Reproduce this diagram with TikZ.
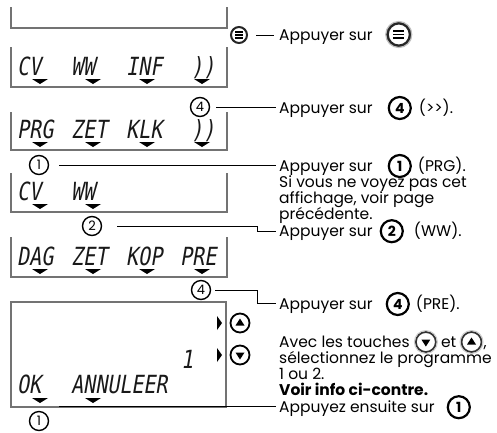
\documentclass[tikz,border=0pt]{standalone}
\usepackage{fontspec}
\setmainfont{Poppins}
\newfontfamily\lcd[FakeStretch=0.8,FakeSlant=0.17]{DejaVu Sans Mono}
\tikzset{
  lcdbox/.style={draw=black!55, line width=1.1pt},
  lcdtxt/.style={anchor=base west, inner sep=0, font=\lcd\fontsize{25}{25}\selectfont, text=black!90},
  num/.style={circle, draw, line width=1.4pt, minimum size=19pt, inner sep=0, font=\fontsize{13}{13}\selectfont},
  bignum/.style={circle, draw, line width=2.2pt, minimum size=22pt, inner sep=0, font=\bfseries\fontsize{14}{14}\selectfont},
  txt/.style={anchor=base west, inner sep=0, font=\fontsize{15.5}{15.5}\selectfont},
  conn/.style={draw, line width=0.8pt},
  menuic/.style={circle, draw=black!85, fill=white, inner sep=0, line width=2pt, minimum size=16pt},
  arrowic/.style={circle, draw=black, fill=white, inner sep=0, line width=1.8pt, minimum size=19pt},
}
\newcommand\menubars[3]{\foreach \dy in {-1,0,1}{\fill[black] ([shift={(-#2,\dy*#3-0.9)}]#1.center) rectangle ([shift={(#2,\dy*#3+0.9)}]#1.center);}}
\newcommand\uptri[1]{\fill ([shift={(-4.5,2.5)}]#1.center) -- ([shift={(4.5,2.5)}]#1.center) -- ([shift={(0,-4.5)}]#1.center) -- cycle;}
\newcommand\downtri[1]{\fill ([shift={(-4.5,-2.5)}]#1.center) -- ([shift={(4.5,-2.5)}]#1.center) -- ([shift={(0,4.5)}]#1.center) -- cycle;}
\begin{document}
\begin{tikzpicture}[x=1pt,y=-1pt]
\useasboundingbox (0,0) rectangle (497,432);

% LCD boxes
\draw[lcdbox] (11,7) |- (227,28) -- (227,7);
\draw[lcdbox] (11,47) |- (227,87) -- (227,47);
\draw[lcdbox] (11,112) |- (227,150) -- (227,112);
\draw[lcdbox] (11,173) |- (227,212) -- (227,173);
\draw[lcdbox] (11,237) |- (227,277) -- (227,237);
\draw[lcdbox] (11,302) rectangle (226,407);

% LCD labels
\node[lcdtxt] (b2a) at (17,75) {CV};
\node[lcdtxt] (b2b) at (71,75) {WW};
\node[lcdtxt] (b2c) at (126,75) {INF};
\node[lcdtxt] (b2d) at (191,75) {))};
\node[lcdtxt] (b3a) at (17,138) {PRG};
\node[lcdtxt] (b3b) at (71,138) {ZET};
\node[lcdtxt] (b3c) at (126,138) {KLK};
\node[lcdtxt] (b3d) at (191,138) {))};
\node[lcdtxt] (b4a) at (17,200) {CV};
\node[lcdtxt] (b4b) at (71,200) {WW};
\node[lcdtxt] (b5a) at (17,265) {DAG};
\node[lcdtxt] (b5b) at (71,265) {ZET};
\node[lcdtxt] (b5c) at (126,265) {KOP};
\node[lcdtxt] (b5d) at (180,265) {PRE};
\node[lcdtxt] (b6n) at (181,368) {1};
\node[lcdtxt] (b6a) at (17,393) {OK};
\node[lcdtxt] (b6b) at (71,393) {ANNULEER};

% pointers
\foreach \x in {40,93,147,202}{\fill (\x-8,79) -- (\x+8,79) -- (\x,84) -- cycle;}
\foreach \x in {40,93,147,202}{\fill (\x-8,142) -- (\x+8,142) -- (\x,147) -- cycle;}
\foreach \x in {40,93}{\fill (\x-8,204) -- (\x+8,204) -- (\x,209) -- cycle;}
\foreach \x in {40,93,147,202}{\fill (\x-8,269) -- (\x+8,269) -- (\x,274) -- cycle;}
\foreach \x in {40,93}{\fill (\x-8,398) -- (\x+8,398) -- (\x,403) -- cycle;}
\fill (217,316) -- (222,323) -- (217,330) -- cycle;
\fill (217,348) -- (222,355) -- (217,362) -- cycle;

% side buttons
\node[menuic] (m1) at (239,35) {};
\menubars{m1}{4}{2.7}
\node[arrowic] (up1) at (240,323) {};
\uptri{up1}
\node[arrowic] (dn1) at (240,355) {};
\downtri{dn1}

% circled numbers
\node[num] (k4a) at (200,107) {4};
\node[num] (k1a) at (39,165) {1};
\node[num] (k2a) at (92,226) {2};
\node[num] (k4b) at (201,290) {4};
\node[num] (k1b) at (39,421) {1};

% right texts
\node[txt] (a1) at (279,40) {Appuyer sur};
\node[menuic, minimum size=23pt, line width=3pt] (m2) at ([shift={(26,-5.5)}]a1.base east) {};
\draw[black!25, line width=1.2pt] (m2.center) circle (13pt);
\menubars{m2}{5.5}{3.3}

\node[txt] (a2) at (279,113) {Appuyer sur};
\node[bignum] (q4a) at ([shift={(27,-5)}]a2.base east) {4};
\node[txt] (a2b) at ([shift={(19,5)}]q4a.center) {(>{}>).};

\node[txt] (a3) at (279,171) {Appuyer sur};
\node[bignum] (q1a) at ([shift={(27,-5)}]a3.base east) {1};
\node[txt] (a3b) at ([shift={(18,5)}]q1a.center) {(PRG).};
\node[txt] (a3c) at (279,187.3) {Si vous ne voyez pas cet};
\node[txt] (a3d) at (279,203.6) {affichage, voir page};
\node[txt] (a3e) at (279,219.9) {précédente.};
\node[txt] (a3f) at (279,236.2) {Appuyer sur};
\node[bignum] (q2a) at ([shift={(19,-5)}]a3f.base east) {2};
\node[txt] (a3g) at ([shift={(22,5)}]q2a.center) {(WW).};

\node[txt] (a4) at (279,309) {Appuyer sur};
\node[bignum] (q4b) at ([shift={(25,-5)}]a4.base east) {4};
\node[txt] (a4b) at ([shift={(18,5)}]q4b.center) {(PRE).};

\node[txt] (a5) at (279,347) {Avec les touches};
\node[arrowic, draw=black!80, minimum size=20pt] (dn2) at ([shift={(16,-5)}]a5.base east) {};
\draw[black!20, line width=1pt] (dn2.center) circle (11.5pt);
\downtri{dn2}
\node[txt] (a5b) at ([shift={(15,5)}]dn2.center) {et};
\node[arrowic, draw=black!80, minimum size=20pt] (up2) at ([shift={(15,-5)}]a5b.base east) {};
\draw[black!20, line width=1pt] (up2.center) circle (11.5pt);
\uptri{up2}
\node[txt] (a5c) at ([shift={(12,5)}]up2.center) {,};
\node[txt] (a5d) at (279,363.3) {sélectionnez le programme};
\node[txt] (a5e) at (279,379.6) {1 ou 2.};
\node[txt, font=\bfseries\fontsize{15.5}{15.5}\selectfont] (a5f) at (279,395.9) {Voir info ci-contre.};
\node[txt] (a5g) at (279,412.2) {Appuyez ensuite sur};
\node[bignum] (q1b) at ([shift={(24,-5)}]a5g.base east) {1};

% connectors
\coordinate (e1) at (274,35);
\coordinate (e2) at (276,107);
\coordinate (e3) at (276,165);
\coordinate (e4) at (276,231);
\coordinate (e5) at (276,303);
\coordinate (e6) at (276,406);
\draw[conn, shorten <=8pt] (m1) -- (e1);
\draw[conn, shorten <=6pt] (k4a) -- (e2);
\draw[conn, shorten <=10pt] (k1a) -- (e3);
\draw[conn, shorten <=25pt] (k2a.center) -- (257,226) |- (e4);
\draw[conn, shorten <=14pt] (k4b.center) -- (257,290) |- (e5);
\draw[conn] ([xshift=10pt]k1b.east |- e6) -- (e6);
\end{tikzpicture}
\end{document}
